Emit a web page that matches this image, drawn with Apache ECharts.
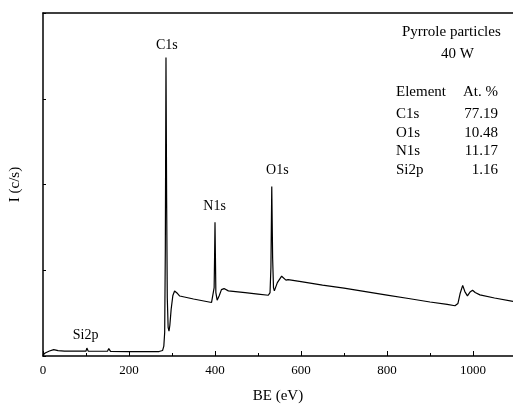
<!DOCTYPE html>
<html>
<head>
<meta charset="utf-8">
<script src="https://cdn.jsdelivr.net/npm/echarts@6/dist/echarts.min.js"></script>
<style>
  html, body { margin: 0; padding: 0; background: #fff; }
  #chart { width: 513px; height: 409px; }
</style>
</head>
<body>
<div id="chart"></div>
<script>
// binding energy (eV) and intensity (c/s)
const bindingEnergy = [0, 5, 15, 25, 35, 50, 100, 102, 105, 150, 153, 157, 200, 270, 278, 281, 283, 284.5, 286, 287.5,
  289, 291, 293, 295, 298, 302, 306, 309, 313, 318, 322, 350, 392, 396, 398, 399, 400, 401, 402, 405,
  410, 415, 421, 431, 470, 500, 524, 528, 530, 532, 534, 536, 538, 545, 555, 565, 570, 600, 650, 700,
  750, 800, 850, 900, 940, 958, 965, 970, 976, 981, 987, 993, 999, 1005, 1016, 1050, 1093];
const intensity = [116, 347, 578, 751, 636, 578, 578, 925, 578, 555, 867, 543, 520, 520, 636, 1156, 2774, 12600, 34800, 18380,
  6820, 3352, 2890, 3584, 5433, 7052, 7572, 7630, 7283, 6994, 6936, 6647, 6242, 6185, 7976, 11444, 15606, 11444, 7398, 6508,
  7052, 7745, 7861, 7595, 7398, 7225, 7086, 7398, 10288, 19768, 11444, 7976, 7595, 8554, 9306, 8843, 8901, 8670, 8265, 7919,
  7514, 7109, 6705, 6300, 6011, 5861, 6127, 7283, 8242, 7514, 7017, 7456, 7664, 7398, 7133, 6763, 6358];

// peak labels: name, position (eV) and height where the label sits
const peakNames = ['C1s', 'N1s', 'O1s', 'Si2p'];
const peakLabelBE = [288, 399, 545, 99];
const peakLabelI = [36183, 17456, 21617, 2428];

// composition table
const elements = ['C1s', 'O1s', 'N1s', 'Si2p'];
const atPercent = ['77.19', '10.48', '11.17', '1.16'];

const serif = '"Liberation Serif", "DejaVu Serif", serif';

const seriesData = bindingEnergy.map((be, i) => [be, intensity[i]]);

const peakMarks = peakNames.map((name, i) => ({
  coord: [peakLabelBE[i], peakLabelI[i]],
  value: name
}));

const tableText = [];
tableText.push({ type: 'text', left: 396, top: 85, style: { text: 'Element', font: '15px ' + serif, fill: '#000' } });
tableText.push({ type: 'text', right: 15, top: 85, style: { text: 'At. %', font: '15px ' + serif, fill: '#000', textAlign: 'right' } });
elements.forEach((el, i) => {
  tableText.push({ type: 'text', left: 396, top: 107 + i * 18.5, style: { text: el, font: '15px ' + serif, fill: '#000' } });
  tableText.push({ type: 'text', right: 15, top: 107 + i * 18.5, style: { text: atPercent[i], font: '15px ' + serif, fill: '#000', textAlign: 'right' } });
});

const option = {
  animation: false,
  grid: { left: 43, top: 13, right: 0, bottom: 50 },
  xAxis: [
    {
      type: 'value',
      min: 0,
      max: 1093,
      interval: 200,
      name: 'BE (eV)',
      nameLocation: 'middle',
      nameGap: 33,
      nameTextStyle: { fontFamily: serif, fontSize: 15, color: '#000' },
      axisLine: { onZero: false, lineStyle: { color: '#000', width: 1.5 } },
      axisTick: { inside: true, length: 5, lineStyle: { color: '#000', width: 1 } },
      minorTick: { show: true, splitNumber: 2, length: 3, lineStyle: { color: '#000', width: 1 } },
      axisLabel: { fontFamily: serif, fontSize: 13, color: '#000', margin: 8, showMaxLabel: false, formatter: v => String(v) },
      splitLine: { show: false }
    },
    {
      type: 'value',
      position: 'top',
      min: 0,
      max: 1093,
      axisLine: { show: true, onZero: false, lineStyle: { color: '#000', width: 1.5 } },
      axisTick: { show: false },
      axisLabel: { show: false },
      splitLine: { show: false }
    }
  ],
  yAxis: {
    type: 'value',
    min: 0,
    max: 40000,
    interval: 10000,
    name: 'I (c/s)',
    nameLocation: 'middle',
    nameGap: 20,
    nameTextStyle: { fontFamily: serif, fontSize: 15, color: '#000' },
    axisLine: { show: true, onZero: false, lineStyle: { color: '#000', width: 1.5 } },
    axisTick: { inside: true, length: 3, lineStyle: { color: '#000', width: 1 } },
    axisLabel: { show: false },
    splitLine: { show: false }
  },
  series: [
    {
      type: 'line',
      data: seriesData,
      symbol: 'none',
      lineStyle: { color: '#000', width: 1.2 },
      markPoint: {
        symbol: 'circle',
        symbolSize: 0,
        silent: true,
        label: {
          show: true,
          position: 'inside',
          formatter: p => p.value,
          fontFamily: serif,
          fontSize: 14,
          color: '#000'
        },
        data: peakMarks
      }
    }
  ],
  graphic: [
    { type: 'text', left: 402, top: 25, style: { text: 'Pyrrole particles', font: '15px ' + serif, fill: '#000' } },
    { type: 'text', left: 441, top: 47, style: { text: '40 W', font: '15px ' + serif, fill: '#000' } }
  ].concat(tableText)
};

const chart = echarts.init(document.getElementById('chart'));
chart.setOption(option);
</script>
</body>
</html>
